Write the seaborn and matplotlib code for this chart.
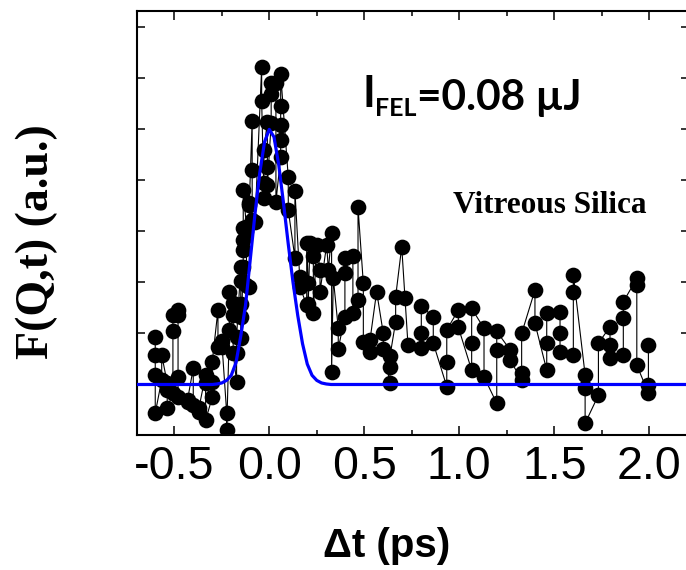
import matplotlib
matplotlib.use("Agg")
import matplotlib.pyplot as plt
from matplotlib.ticker import MultipleLocator, NullFormatter
import pandas as pd
import seaborn as sns

# measured points (delay in ps, signal in a.u.); repeated delays are separate scans
DELAY_PS = [
    -0.600, -0.600, -0.600, -0.600,
    -0.566, -0.566,
    -0.537, -0.537, -0.537,
    -0.507, -0.507, -0.507,
    -0.480, -0.480, -0.480, -0.480,
    -0.430, -0.430,
    -0.400, -0.400,
    -0.370, -0.370,
    -0.335, -0.335, -0.335,
    -0.300, -0.300, -0.300,
    -0.270, -0.270,
    -0.250, -0.250,
    -0.224, -0.224,
    -0.210, -0.210,
    -0.190, -0.190, -0.190,
    -0.172, -0.172, -0.172,
    -0.150, -0.150, -0.150, -0.150, -0.150,
    -0.137, -0.137, -0.137, -0.137, -0.137,
    -0.120, -0.120, -0.120,
    -0.105, -0.105, -0.105,
    -0.090, -0.090, -0.090,
    -0.075,
    -0.040, -0.040,
    -0.028, -0.028, -0.028,
    -0.010, -0.010, -0.010,
    0.010, 0.010, 0.010,
    0.035, 0.035,
    0.060, 0.060, 0.060, 0.060, 0.060,
    0.100, 0.100,
    0.135, 0.135,
    0.160, 0.160,
    0.197, 0.197,
    0.205, 0.205,
    0.214,
    0.232, 0.232,
    0.249,
    0.267, 0.267,
    0.302,
    0.311,
    0.328, 0.328,
    0.337,
    0.363, 0.363,
    0.398, 0.398, 0.398,
    0.440, 0.440,
    0.467, 0.467,
    0.495, 0.495,
    0.530, 0.530,
    0.565,
    0.600, 0.600,
    0.635, 0.635, 0.635,
    0.665, 0.665,
    0.697,
    0.714,
    0.730,
    0.800, 0.800, 0.800,
    0.863, 0.863,
    0.934, 0.934, 0.934,
    0.995, 0.995,
    1.065, 1.065, 1.065,
    1.130, 1.130,
    1.197, 1.197, 1.197,
    1.267, 1.267,
    1.328, 1.328, 1.328,
    1.398, 1.398,
    1.460, 1.460, 1.460,
    1.530, 1.530, 1.530,
    1.600, 1.600, 1.600,
    1.662, 1.662, 1.662,
    1.732, 1.732,
    1.793, 1.793, 1.793,
    1.863, 1.863, 1.863,
    1.934, 1.934, 1.934,
    1.995, 1.995, 1.995,
]
SIGNAL = [
    0.94, 0.58, 0.19, -0.56,
    0.09, 0.58,
    0.03, -0.11, -0.47,
    -0.17, 1.04, 1.36,
    1.46, 1.36, 0.14, -0.25,
    -0.34, -0.30,
    0.32, -0.41,
    -0.54, -0.46,
    0.19, 0.03, -0.70,
    -0.25, 0.05, 0.45,
    1.46, 0.74,
    0.74, 0.85,
    -0.56, -0.89,
    1.07, 1.82,
    1.60, 1.36, 0.62,
    0.05, 0.62, 0.94,
    2.30, 2.02, 1.58, 1.32, 0.91,
    2.31, 2.64, 2.83, 3.06, 3.81,
    3.09, 3.00, 1.95,
    1.92, 3.52, 3.55,
    5.17, 4.20, 3.23,
    3.19,
    6.22, 5.55,
    3.65, 3.94, 4.60,
    5.15, 4.27, 3.91,
    5.12, 5.70, 5.91,
    5.91, 3.58,
    4.46, 4.79, 5.09, 5.45, 6.09,
    4.06, 3.42,
    2.48, 3.80,
    2.11, 1.92,
    1.56, 2.77,
    1.98, 1.58,
    2.77,
    2.51, 1.41,
    2.74,
    2.25, 1.82,
    2.74,
    2.25,
    2.96, 0.25,
    2.08,
    1.10, 0.70,
    1.33, 2.18, 2.47,
    2.51, 1.40,
    1.66, 3.47,
    1.98, 0.84,
    0.64, 0.87,
    1.82,
    1.00, 0.70,
    0.02, 0.34, 0.55,
    1.23, 1.72,
    2.70,
    1.69,
    0.77,
    0.71, 1.00, 1.53,
    1.33, 0.81,
    -0.04, 0.45, 1.07,
    1.46, 1.12,
    0.28, 0.81, 1.49,
    1.10, 0.15,
    -0.37, 0.68, 1.04,
    0.68, 0.48,
    0.09, 0.22, 1.00,
    1.85, 1.20,
    0.28, 0.81, 1.40,
    1.43, 1.00, 0.64,
    0.58, 1.82, 2.15,
    0.19, -0.07, -0.76,
    -0.21, 0.81,
    1.13, 0.77, 0.51,
    0.58, 1.30, 1.62,
    2.08, 1.95, 0.38,
    -0.17, -0.01, 0.77,
]

# blue fit curve
FIT_DELAY_PS = [-0.70, -0.300, -0.275, -0.250, -0.225, -0.200, -0.175, -0.150,
                -0.125, -0.100, -0.075, -0.050, -0.025, 0.000, 0.025, 0.050,
                0.075, 0.100, 0.125, 0.150, 0.175, 0.200, 0.225, 0.250,
                0.275, 0.300, 0.325, 2.20]
FIT_SIGNAL = [0.0, 0.0, 0.01, 0.03, 0.08, 0.18, 0.43, 0.95,
              1.55, 2.45, 3.35, 4.15, 4.75, 5.00, 4.85, 4.30,
              3.55, 2.75, 2.00, 1.35, 0.80, 0.40, 0.18, 0.08,
              0.03, 0.01, 0.0, 0.0]

X_TICKS = [-0.5, 0.0, 0.5, 1.0, 1.5, 2.0]
X_TICK_LABELS = ["-0.5", "0.0", "0.5", "1.0", "1.5", "2.0"]

assert len(DELAY_PS) == len(SIGNAL)

sns.set_theme(style="ticks")
plt.rcParams["font.family"] = ["Liberation Sans", "DejaVu Sans"]
plt.rcParams["text.color"] = "black"
plt.rcParams["axes.labelcolor"] = "black"
plt.rcParams["xtick.color"] = "black"
plt.rcParams["ytick.color"] = "black"
plt.rcParams["axes.edgecolor"] = "black"

data = pd.DataFrame({"delay": DELAY_PS, "signal": SIGNAL})
fit = pd.DataFrame({"delay": FIT_DELAY_PS, "signal": FIT_SIGNAL})

fig = plt.figure(figsize=(6.86, 5.70), dpi=100)
ax = fig.add_axes([137 / 686, 1 - 435 / 570, 551.5 / 686, 424 / 570])

sns.lineplot(data=data, x="delay", y="signal", ax=ax, estimator=None, sort=False,
             color="black", linewidth=0.8, marker="o", markersize=11.3,
             markeredgewidth=0, zorder=2)
sns.lineplot(data=fit, x="delay", y="signal", ax=ax, estimator=None, sort=False,
             color="#0000ff", linewidth=2.3, zorder=3)

ax.set_xlim(-0.696, 2.206)
ax.set_ylim(-0.99, 7.32)

ax.set_xticks(X_TICKS)
ax.set_xticklabels(X_TICK_LABELS)
ax.xaxis.set_minor_locator(MultipleLocator(0.25))
ax.yaxis.set_major_locator(MultipleLocator(1))
ax.yaxis.set_major_formatter(NullFormatter())
ax.tick_params(axis="both", which="both", direction="in", top=True, right=True,
               width=1.1, color="black", labelcolor="black")
ax.tick_params(axis="x", which="major", length=6.5, labelsize=33.5, pad=7)
ax.tick_params(axis="x", which="minor", length=3.6)
ax.tick_params(axis="y", which="major", length=6, left=True, labelleft=False)

for side in ["left", "right", "top", "bottom"]:
    ax.spines[side].set_linewidth(1.5)
    ax.spines[side].set_color("black")

ax.set_xlabel("Δt (ps)", fontsize=29, fontweight="bold", color="black")
ax.xaxis.set_label_coords(0.452, -0.218)
ax.set_ylabel("F(Q,t) (a.u.)", fontsize=33, fontweight="bold", color="black",
              family=["Liberation Serif", "DejaVu Serif"])
ax.yaxis.set_label_coords(-0.144, 0.455)

# I_FEL label built from three pieces
fig.text(362 / 686, 1 - 107 / 570, "I", fontsize=31, fontweight="bold",
         family=["Lato", "DejaVu Sans"], va="baseline", ha="left")
fig.text(375 / 686, 1 - 116 / 570, "FEL", fontsize=18, fontweight="bold",
         family=["Lato", "DejaVu Sans"], va="baseline", ha="left")
fig.text(417 / 686, 1 - 110 / 570, "=0.08 µJ", fontsize=30.5, fontweight="bold",
         family=["Lato", "DejaVu Sans"], va="baseline", ha="left")
fig.text(453 / 686, 1 - 213 / 570, "Vitreous Silica", fontsize=22.5,
         fontweight="bold", family=["Liberation Serif", "DejaVu Serif"],
         va="baseline", ha="left")

fig.savefig("out.png", dpi=100)
